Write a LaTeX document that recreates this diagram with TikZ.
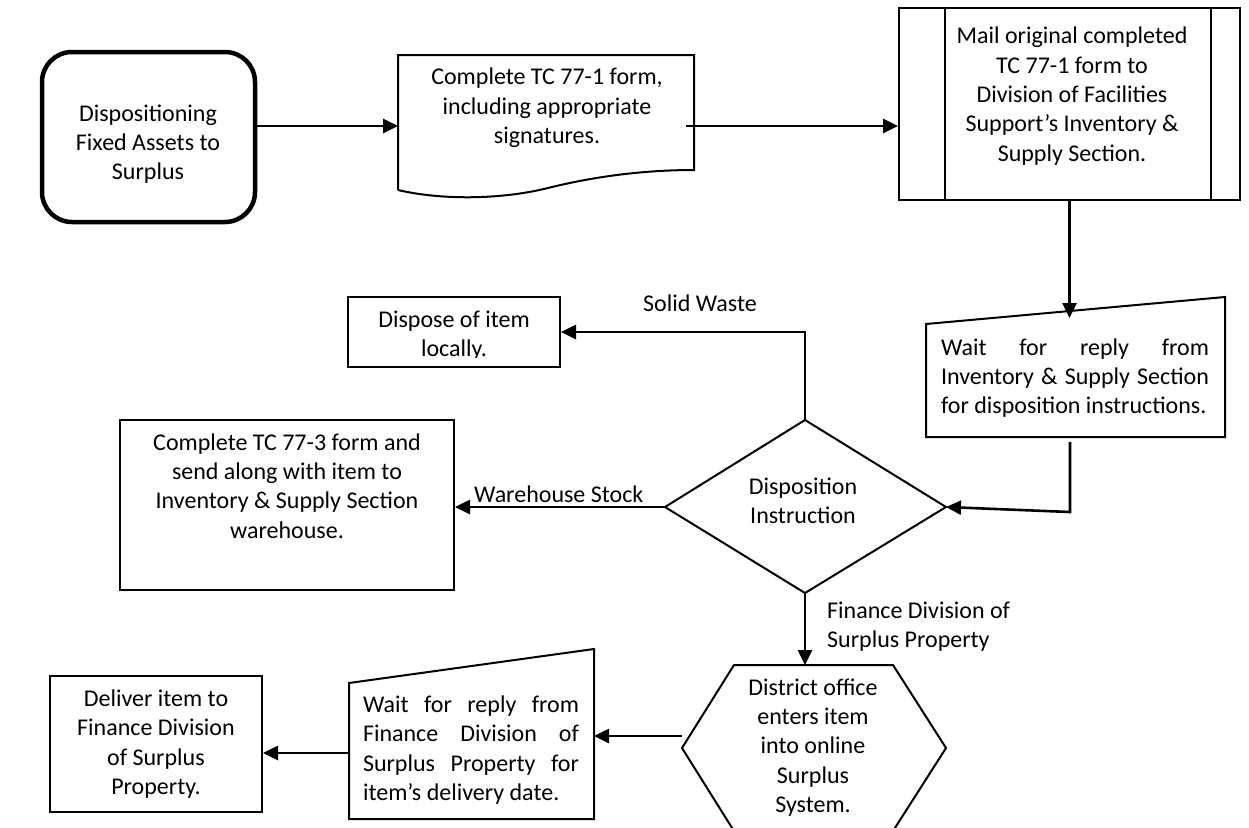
\documentclass[tikz,border=0pt]{standalone}
\usepackage{fontspec}
\setmainfont{Carlito}
\usetikzlibrary{arrows.meta}
\begin{document}
\begin{tikzpicture}[x=1pt,y=-1pt,
  txt/.style={font=\fontsize{24}{29.3}\selectfont, align=center, inner sep=0pt},
  jtxt/.style={font=\fontsize{24}{29.3}\selectfont, align=justify, inner sep=0pt},
  shp/.style={draw, line width=2pt, inner sep=0pt, line join=miter},
  conn/.style={line width=2.6pt, -{Triangle[length=15pt,width=14pt]}}]
\useasboundingbox (0,0) rectangle (1249,827);

% start terminal
\node[shp, line width=4.5pt, rounded corners=30pt, minimum width=213pt, minimum height=170pt] (start) at (148.5,137) {};
\node[txt] (startT) at (148,144) {Dispositioning\\Fixed Assets to\\Surplus};

% document
\coordinate (docTL) at (398,55);
\coordinate (docTR) at (694,55);
\coordinate (docBR) at (694,170);
\coordinate (docBL) at (398,190);
\draw[shp] (docBL) -- (docTL) -- (docTR) -- (docBR)
  .. controls (650,170) and (600,175) .. (548,188)
  .. controls (500,200) and (440,200) .. (docBL);
\node[txt] (docT) at (547,108) {Complete TC 77-1 form,\\including appropriate\\signatures.};
\coordinate (docL) at (398,126);
\coordinate (docR) at (686,126);

% predefined process
\node[shp, minimum width=341pt, minimum height=192pt] (mail) at (1069.5,104) {};
\draw[shp] ([xshift=47pt]mail.north west) -- ([xshift=47pt]mail.south west);
\draw[shp] ([xshift=-30pt]mail.north east) -- ([xshift=-30pt]mail.south east);
\node[txt] (mailT) at (1072,96) {Mail original completed\\TC 77-1 form to\\Division of Facilities\\Support’s Inventory \&\\Supply Section.};

% manual input 1
\coordinate (w1a) at (926,324);
\coordinate (w1b) at (1225,297);
\coordinate (w1c) at (1225,437);
\coordinate (w1d) at (926,437);
\draw[shp] (w1a) -- (w1b) -- (w1c) -- (w1d) -- cycle;
\node[jtxt, text width=268pt] (w1T) at (1075,378) {Wait for reply from\linebreak Inventory \& Supply Section\linebreak for disposition instructions.};
\coordinate (w1top) at (1069.5,318);
\coordinate (w1B) at (1070,442);

% diamond
\coordinate (dN) at (805,420);
\coordinate (dE) at (946,507);
\coordinate (dS) at (805,593);
\coordinate (dW) at (665,507);
\draw[shp] (dN) -- (dE) -- (dS) -- (dW) -- cycle;
\node[txt] (dT) at (803,501) {Disposition\\Instruction};

% dispose
\node[shp, minimum width=212pt, minimum height=70pt] (dispose) at (454,332) {};
\begin{scope}
\clip (348,297) rectangle (560,357);
\node[txt] (disposeT) at (454,336) {Dispose of item\\locally.};
\end{scope}

% complete TC 77-3
\node[shp, minimum width=334pt, minimum height=170pt] (comp) at (287,505) {};
\node[txt] (compT) at (287,486) {Complete TC 77-3 form and\\send along with item to\\Inventory \& Supply Section\\warehouse.};

% hexagon
\coordinate (h1) at (734,665);
\coordinate (h2) at (893,665);
\coordinate (h3) at (946,748);
\coordinate (h4) at (893,831);
\coordinate (h5) at (734,831);
\coordinate (h6) at (682,748);
\draw[shp] (h1) -- (h2) -- (h3) -- (h4) -- (h5) -- (h6) -- cycle;
\node[txt] (hT) at (813,747.5) {District office\\enters item\\into online\\Surplus\\System.};
\coordinate (hN) at (805,665);
\coordinate (hW) at (682,736);

% manual input 2
\coordinate (w2a) at (349,683);
\coordinate (w2b) at (594,649);
\coordinate (w2c) at (594,819);
\coordinate (w2d) at (349,819);
\draw[shp] (w2a) -- (w2b) -- (w2c) -- (w2d) -- cycle;
\node[jtxt, text width=216pt] (w2T) at (471,750) {Wait for reply from\linebreak Finance Division of\linebreak Surplus Property for\linebreak item’s delivery date.};
\coordinate (w2R) at (594,736);
\coordinate (w2L) at (349,753);

% deliver
\node[shp, txt, draw, line width=2pt, minimum width=212pt, minimum height=136pt] (deliver) at (156,744) {Deliver item to\\Finance Division\\of Surplus\\Property.};

% connectors
\draw[conn] (start.east |- docL) -- (docL);
\draw[conn] (docR) -- (docR -| mail.west);
\draw[conn] (mail.south) -- (w1top);
\draw[conn] (w1B) -- (1070,512) -- (dE);
\draw[conn] (dN) -- (dN |- dispose.east) -- (dispose.east);
\draw[conn] (dW) -- (dW -| comp.east);
\draw[conn] (dS) -- (hN);
\draw[conn] (hW) -- (w2R);
\draw[conn] (w2L) -- (w2L -| deliver.east);

% labels
\node[txt] (lSolid) at (700,303) {Solid Waste};
\node[txt, anchor=west] (lWare) at (474,494) {Warehouse Stock};
\node[txt, align=left, anchor=west] (lFin) at (827,626.5) {Finance Division of\\Surplus Property};
\end{tikzpicture}
\end{document}
